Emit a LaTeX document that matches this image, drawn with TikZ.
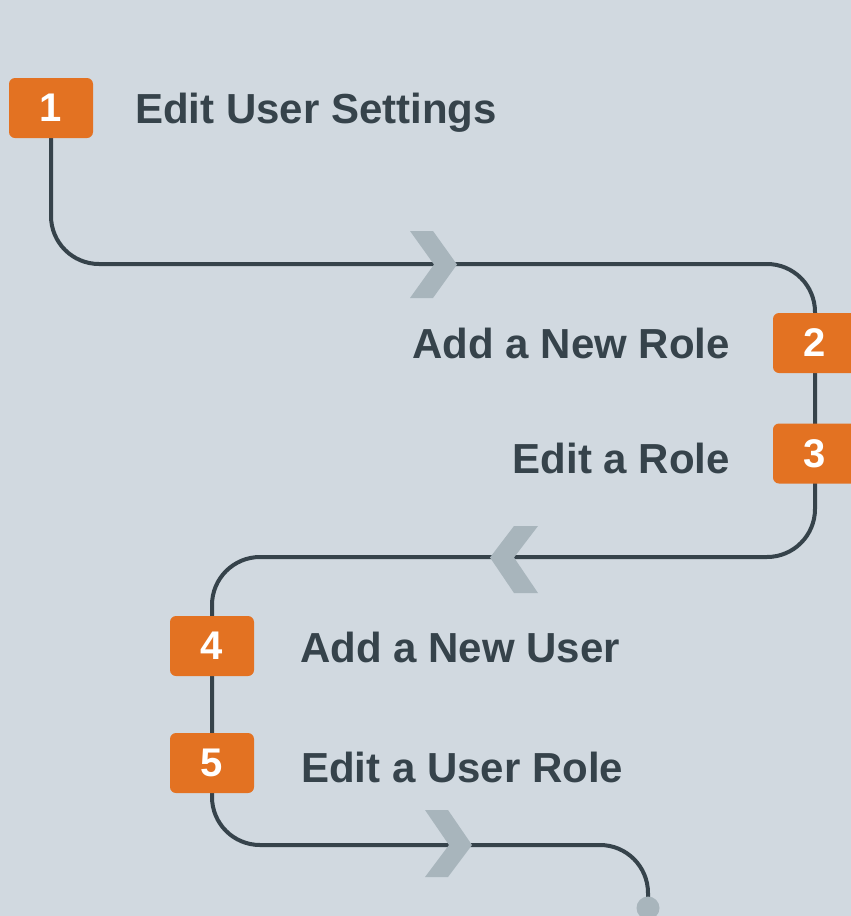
\documentclass[tikz,border=0pt]{standalone}
\usepackage{fontspec}
\setmainfont{Liberation Sans}
\usetikzlibrary{backgrounds}
\definecolor{bgc}{HTML}{D1D9E0}
\definecolor{linec}{HTML}{36434B}
\definecolor{orangec}{HTML}{E37222}
\definecolor{chevc}{HTML}{A8B5BC}
\tikzset{
  numbox/.style={fill=orangec, rounded corners=6pt, minimum width=84pt, minimum height=60pt, inner sep=0pt, text=white, font=\fontsize{40}{44}\selectfont\bfseries},
  steplabel/.style={inner sep=0pt, text=linec, font=\fontsize{42}{48}\selectfont\bfseries},
  flowline/.style={draw=linec, line width=4pt, rounded corners=48pt},
  chevron/.style={fill=chevc, draw=none},
}
\begin{document}
\begin{tikzpicture}[x=1pt,y=-1pt]
\useasboundingbox (0,0) rectangle (851,916);
\clip (0,0) rectangle (851,916);
% boxes
\node[numbox] (b1) at (51,108) {1};
\node[numbox] (b2) at (815,343) {2};
\node[numbox] (b3) at (815,453.5) {3};
\node[numbox] (b4) at (212,646) {4};
\node[numbox] (b5) at (212,763) {5};
% labels
\node[steplabel, anchor=base west] (t1) at (135,123) {Edit User Settings};
\node[steplabel, anchor=base east] (t2) at (730,358) {Add a New Role};
\node[steplabel, anchor=base east] (t3) at (730,473) {Edit a Role};
\node[steplabel, anchor=base west] (t4) at (300,662) {Add a New User};
\node[steplabel, anchor=base west] (t5) at (301,782) {Edit a User Role};
% path corners
\coordinate (c1) at (51,264);
\coordinate (c2) at (815,264);
\coordinate (c3) at (815,557);
\coordinate (c4) at (212,557);
\coordinate (c5) at (212,845);
\coordinate (c6) at (648,845);
\coordinate (endpt) at (648,908);
\begin{pgfonlayer}{background}
\fill[bgc] (0,0) rectangle (851,916);
\draw[flowline] (b1.center) -- (c1) -- (c2) -- (c3) -- (c4) -- (c5) -- (c6) -- (endpt);
% chevrons
\fill[chevron] (410,231) -- (433,231) -- (457,264.5) -- (433,298) -- (410,298) -- (434,264.5) -- cycle;
\fill[chevron] (538,526) -- (514,526) -- (490,557.5) -- (514,593) -- (538,593) -- (514,557.5) -- cycle;
\fill[chevron] (425,810) -- (448,810) -- (472,845) -- (448,877) -- (425,877) -- (449,845) -- cycle;
% end dot
\fill[chevc] (endpt) circle[radius=11.5pt];
\end{pgfonlayer}
\end{tikzpicture}
\end{document}
